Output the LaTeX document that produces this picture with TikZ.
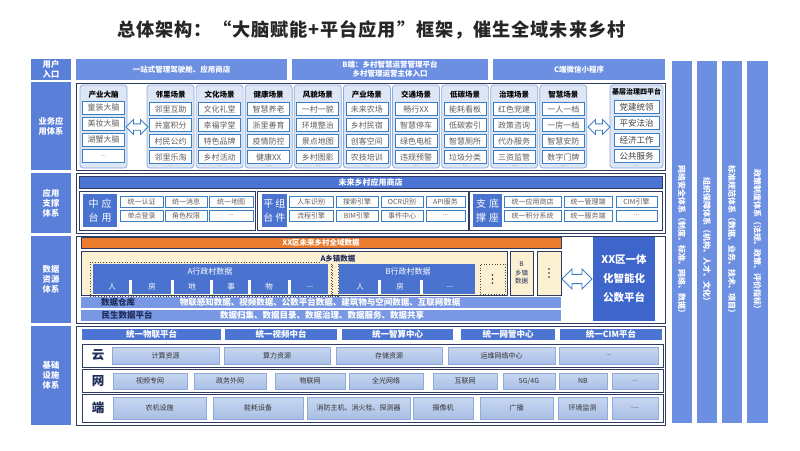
\documentclass[tikz,border=0pt]{standalone}
\usepackage{fontspec}
\setmainfont{Noto Sans CJK SC}
\usetikzlibrary{shapes.arrows}
\definecolor{labblue}{HTML}{5A7FD9}
\definecolor{entblue}{HTML}{6C8FE2}
\definecolor{navy}{HTML}{2E3A5F}
\definecolor{cardfill}{HTML}{DCE6F4}
\definecolor{cardline}{HTML}{8FAADC}
\definecolor{itemline}{HTML}{3C7EC2}
\definecolor{itemtext}{HTML}{5F5F5F}
\definecolor{hdrblue}{HTML}{4C75D3}
\definecolor{blkblue}{HTML}{4A73CF}
\definecolor{orng}{HTML}{EB7C2E}
\definecolor{beige}{HTML}{FCF0D3}
\definecolor{barblue}{HTML}{7898E4}
\definecolor{platblue}{HTML}{3E66CA}
\definecolor{inftop}{HTML}{C8D7F0}
\definecolor{infbot}{HTML}{A9BFE6}
\definecolor{infline}{HTML}{8EABDC}
\definecolor{darktxt}{HTML}{1F2D5A}
\newcommand\Bx[7]{\node[#6,minimum width={((#4)-(#2))*1pt},minimum height={((#5)-(#3))*1pt}] (#1) at ({((#2)+(#4))/2},{((#3)+(#5))/2}) {#7};}
\newcommand\ddd{...}
\begin{document}
\begin{tikzpicture}[x=1pt,y=-1pt,
  every node/.style={inner sep=0pt,outer sep=0pt},
  lbl/.style={fill=labblue,text=white,font=\bfseries\fontsize{8.3}{9.8}\selectfont,align=center},
  entry/.style={fill=entblue,text=white,font=\bfseries\fontsize{7.5}{9}\selectfont,align=center},
  colbar/.style={fill=entblue},
  vtext/.style={rotate=-90,text=white,font=\bfseries\fontsize{8}{9}\selectfont},
  frame/.style={draw=navy,line width=0.9pt,fill=white},
  card/.style={draw=cardline,fill=cardfill,rounded corners=3pt,line width=0.7pt},
  item/.style={draw=itemline,fill=white,line width=0.8pt,text=itemtext,font=\fontsize{8}{9}\selectfont},
  jitem/.style={draw=itemline,fill=white,line width=0.8pt,text=black!75,font=\fontsize{8.5}{9}\selectfont},
  ctitle/.style={font=\bfseries\fontsize{7.5}{9}\selectfont,text=black},
  dots/.style={font=\fontsize{6}{6}\selectfont,text=gray},
  dbl/.style={double arrow,draw=itemline,fill=white,line width=0.8pt,minimum height=22pt,minimum width=15pt,double arrow head extend=4pt,inner sep=2.5pt},
  hdr/.style={fill=hdrblue,draw=navy,line width=0.5pt,text=white,font=\bfseries\fontsize{8}{9}\selectfont},
  grp/.style={draw=navy,line width=0.8pt,fill=white},
  blk/.style={fill=blkblue,text=white,font=\fontsize{10}{14}\selectfont,align=center},
  sitem/.style={draw=itemline,fill=white,line width=0.7pt,text=itemtext,font=\fontsize{7}{8}\selectfont},
  obar/.style={fill=orng,draw=navy,line width=0.4pt,text=white,font=\bfseries\fontsize{7.5}{9}\selectfont},
  bg/.style={fill=beige,draw=navy,line width=0.6pt,text=darktxt,font=\fontsize{6.5}{8.5}\selectfont,align=center},
  dotbox/.style={draw=black!70,dotted,line width=0.7pt},
  vblk/.style={fill=blkblue},
  vt/.style={text=white,font=\fontsize{8}{9}\selectfont},
  dbar/.style={fill=barblue},
  dt/.style={text=darktxt,font=\bfseries\fontsize{8.5}{9}\selectfont},
  wt/.style={text=white,font=\bfseries\fontsize{8.5}{9}\selectfont},
  plat/.style={fill=platblue,text=white,font=\bfseries\fontsize{10.5}{19}\selectfont,align=center},
  ibar/.style={fill=hdrblue,text=white,font=\bfseries\fontsize{8.5}{9}\selectfont},
  rframe/.style={draw=navy,line width=0.8pt,fill=white},
  big/.style={text=darktxt,font=\bfseries\fontsize{12.5}{13}\selectfont},
  iitem/.style={top color=inftop,bottom color=infbot,draw=infline,line width=0.5pt,text=black!80,font=\fontsize{7}{8}\selectfont}
]
\fill[white] (0,0) rectangle (800,450);
\useasboundingbox (0,0) rectangle (800,450);

% title
\node[text=black!85,font={\bfseries\fontsize{18.2}{22}\selectfont\addfontfeatures{LetterSpace=5}}] (title) at (371.5,30) {总体架构：“大脑赋能+平台应用”框架，催生全域未来乡村};

% left labels
\Bx{L1}{31}{59}{71}{80}{lbl}{用户\\入口}
\Bx{L2}{31}{82}{71}{170}{lbl}{业务应\\用体系}
\Bx{L3}{31}{173}{71}{233}{lbl}{应用\\支撑\\体系}
\Bx{L4}{31}{236}{71}{323}{lbl}{数据\\资源\\体系}
\Bx{L5}{31}{326}{71}{425}{lbl}{基础\\设施\\体系}

% user entry
\Bx{U1}{76}{59}{287}{80}{entry}{一站式管理驾驶舱、应用商店}
\Bx{U2}{292}{59}{488}{80}{entry}{B端：乡村智慧运营管理平台\\乡村管理运营主体入口}
\Bx{U3}{493}{59}{665}{80}{entry}{C端微信小程序}

% right columns
\Bx{R1}{672}{61}{692}{423}{colbar}{}
\Bx{R2}{697}{61}{717}{423}{colbar}{}
\Bx{R3}{722}{61}{742}{423}{colbar}{}
\Bx{R4}{747}{61}{768}{423}{colbar}{}
\node[vtext] (R1t) at (682,241) {网络安全体系（制度、标准、网络、数据）};
\node[vtext] (R2t) at (707,241) {组织保障体系（机构、人才、文化）};
\node[vtext] (R3t) at (732,241) {标准规范体系（数据、业务、技术、项目）};
\node[vtext] (R4t) at (757.5,241) {政策制度体系（法规、政策、评价指标）};

% business row
\Bx{B0}{76}{83}{665}{170}{frame}{}
\Bx{cy}{80}{85}{127}{168}{card}{}
\node[ctitle] (cyt) at (103.5,95) {产业大脑};
\Bx{cya}{82.5}{101}{124.5}{114}{item}{童装大脑}
\Bx{cyb}{82.5}{117}{124.5}{130}{item}{美妆大脑}
\Bx{cyc}{82.5}{133}{124.5}{146}{item}{湖蟹大脑}
\Bx{cyd}{82.5}{149.5}{124.5}{162.5}{item}{\fontsize{6}{6}\selectfont\ddd}
\foreach \t/\a/\b/\c/\d [count=\i from 0] in {邻里场景/邻里互助/共富积分/村民公约/邻里乐淘, 文化场景/文化礼堂/幸福学堂/特色品牌/乡村活动, 健康场景/智慧养老/浙里善育/疫情防控/健康XX, 风貌场景/一村一貌/环境整治/景点地图/乡村图影, 产业场景/未来农场/乡村民宿/创客空间/农技培训, 交通场景/畅行XX/智慧停车/绿色电桩/违规预警, 低碳场景/能耗看板/低碳索引/智慧厕所/垃圾分类, 治理场景/红色党建/政策咨询/代办服务/三资监管, 智慧场景/一人一档/一房一档/智慧安防/数字门牌}{
  \pgfmathsetmacro\xl{147+\i*49.1}
  \pgfmathsetmacro\xr{\xl+47}
  \pgfmathsetmacro\il{\xl+2.5}
  \pgfmathsetmacro\ir{\xr-2.5}
  \pgfmathsetmacro\xm{\xl+23.5}
  \Bx{sc\i}{\xl}{85}{\xr}{168}{card}{}
  \node[ctitle] (sct\i) at (\xm,95) {\t};
  \Bx{sca\i}{\il}{102.5}{\ir}{115.5}{item}{\a}
  \Bx{scb\i}{\il}{118.5}{\ir}{131.5}{item}{\b}
  \Bx{scc\i}{\il}{134.5}{\ir}{147.5}{item}{\c}
  \Bx{scd\i}{\il}{150.5}{\ir}{163.5}{item}{\d}
  \node[dots] (sce\i) at (\xm,166) {\ddd};
}
\Bx{jc}{610}{85}{663}{168}{card}{}
\node[ctitle,font=\bfseries\fontsize{7}{8}\selectfont] (jct) at (636.5,92) {基层治理四平台};
\Bx{jca}{614}{100.5}{659}{113.5}{jitem}{党建统领}
\Bx{jcb}{614}{116.5}{659}{129.5}{jitem}{平安法治}
\Bx{jcc}{614}{133}{659}{146.5}{jitem}{经济工作}
\Bx{jcd}{614}{149.5}{659}{162.5}{jitem}{公共服务}
\node[dots] (jce) at (636.5,166) {\ddd};
\node[dbl] (ar1) at (137,127) {};
\node[dbl] (ar2) at (599,127) {};

% application support row
\Bx{A0}{76}{173}{665}{233}{frame}{}
\Bx{AH}{79}{176}{662}{188}{hdr}{未来乡村应用商店}
\Bx{G1}{79}{191}{255}{230}{grp}{}
\Bx{G2}{257}{191}{468}{230}{grp}{}
\Bx{G3}{469}{191}{662}{230}{grp}{}
\Bx{G1b}{83}{194}{117}{227}{blk}{中\hspace{3pt}应\\台\hspace{3pt}用}
\Bx{G2b}{261.5}{194}{287}{227}{blk}{平\hspace{2pt}组\\台\hspace{2pt}件}
\Bx{G3b}{473}{194}{502}{227}{blk}{支\hspace{3pt}底\\撑\hspace{3pt}座}
\foreach \a/\b/\r/\t [count=\k] in {120/163/1/统一认证, 165/207/1/统一消息, 209/253/1/统一地图, 120/163/2/单点登录, 165/207/2/角色权限, 209/253/2/\ddd, 289/333/1/人车识别, 336/378/1/搜索引擎, 381/423/1/OCR识别, 426/465/1/API服务, 289/333/2/流程引擎, 336/378/2/BIM引擎, 381/423/2/事件中心, 426/465/2/\ddd, 504/561/1/统一应用商店, 564/612/1/统一管理端, 616/657/1/CIM引擎, 504/561/2/统一积分系统, 564/612/2/统一服务端, 616/657/2/\ddd}{
  \pgfmathsetmacro\ya{\r==1 ? 196.5 : 210}
  \pgfmathsetmacro\yb{\ya+11}
  \Bx{S\k}{\a}{\ya}{\b}{\yb}{sitem}{\t}
}

% data row
\Bx{D0}{76}{236}{665}{323}{frame}{}
\Bx{DO}{81}{237}{561}{248}{obar}{XX区未来乡村全域数据}
\Bx{DA}{81}{251}{507}{295}{bg}{}
\Bx{DAd}{90}{262}{331}{296}{dotbox}{}
\Bx{DAn}{332}{262}{338}{296}{dotbox}{}
\node[text=darktxt,font=\bfseries\fontsize{7.5}{8}\selectfont,fill=beige,inner sep=1pt] (DAt) at (338,258.5) {A乡镇数据};
\Bx{DVA}{93}{264}{328}{294}{vblk}{}
\Bx{DVB}{339}{264}{475}{294}{vblk}{}
\node[vt] (DVAt) at (210,271.5) {A行政村数据};
\node[vt] (DVBt) at (408,271.5) {B行政村数据};
\foreach \xx/\t [count=\k] in {112/人, 152/房, 192/地, 231/事, 269/物, 310/\ddd}{\node[vt,font=\fontsize{7.5}{8}\selectfont] (DAs\k) at (\xx,287) {\t};}
\foreach \xx/\t [count=\k] in {360/人, 400/房, 450/\ddd}{\node[vt,font=\fontsize{7.5}{8}\selectfont] (DBs\k) at (\xx,287) {\t};}
\foreach \xx in {130,172,211,249,289,379,421}{\fill[white] (\xx-1.5,280) rectangle (\xx+1.5,294);}
\Bx{DBd}{480}{264}{505}{294}{dotbox}{}
\foreach \yy in {-4,0,4}{\fill[black!85] (492.5,279+\yy) circle (0.9);}
\Bx{DB}{510}{251}{533}{295}{bg}{B\\乡镇\\数据}
\Bx{DC}{537}{251}{561}{295}{bg}{}
\foreach \yy in {-4,0,4}{\fill[black!85] (549,273+\yy) circle (0.9);}
\node[dbl,minimum height=30pt,minimum width=20pt,double arrow head extend=4.5pt,inner sep=3.5pt] (ar3) at (577,279) {};
\Bx{DP}{593}{237}{655}{321}{plat}{XX区一体\\化智能化\\公数平台}
\Bx{DW}{81}{297}{561}{308}{dbar}{}
\Bx{DM}{81}{310}{561}{321}{dbar}{}
\node[dt] (DWa) at (118,302.5) {数据仓库};
\node[wt] (DWb) at (320,302.5) {物联感知数据、视频数据、公数平台数据、建筑物与空间数据、互联网数据};
\node[dt] (DMa) at (127,315.5) {民生数据平台};
\node[wt] (DMb) at (322,315.5) {数据归集、数据目录、数据治理、数据服务、数据共享};

% infrastructure row
\Bx{I0}{76}{326}{665}{425}{frame}{}
\Bx{T1}{82}{329}{221}{340}{ibar}{统一物联平台}
\Bx{T2}{225}{329}{337}{340}{ibar}{统一视频中台}
\Bx{T3}{342}{329}{453}{340}{ibar}{统一智算中心}
\Bx{T4}{461}{329}{555}{340}{ibar}{统一网管中心}
\Bx{T5}{560}{329}{662}{340}{ibar}{统一CIM平台}
\Bx{FY}{82}{344}{663}{367}{rframe}{}
\Bx{FW}{82}{369}{663}{392}{rframe}{}
\Bx{FD}{82}{394}{663}{422}{rframe}{}
\node[big] (cY) at (98,355.5) {云};
\node[big] (cW) at (98,381) {网};
\node[big] (cD) at (98,408) {端};
\foreach \a/\b/\t [count=\k] in {112/219/计算资源, 224/330/算力资源, 336/442/存储资源, 448/555/运维网络中心, 559/658/\ddd}{\Bx{Y\k}{\a}{347}{\b}{364}{iitem}{\t}}
\foreach \a/\b/\t [count=\k] in {113/187/视频专网, 194/266/政务外网, 275/345/物联网, 349/423/全光网络, 433/497/互联网, 503/555/{5G/4G}, 559/607/NB, 612/658/\ddd}{\Bx{W\k}{\a}{373}{\b}{389}{iitem}{\t}}
\foreach \a/\b/\t [count=\k] in {113/206/农机设施, 213/303/能耗设备, 307/410/{消防主机、消火栓、探测器}, 413/473/摄像机, 480/553/广播, 558/607/环境监测, 612/658/{\ddd.}}{\Bx{E\k}{\a}{397}{\b}{419}{iitem}{\t}}
\end{tikzpicture}
\end{document}
